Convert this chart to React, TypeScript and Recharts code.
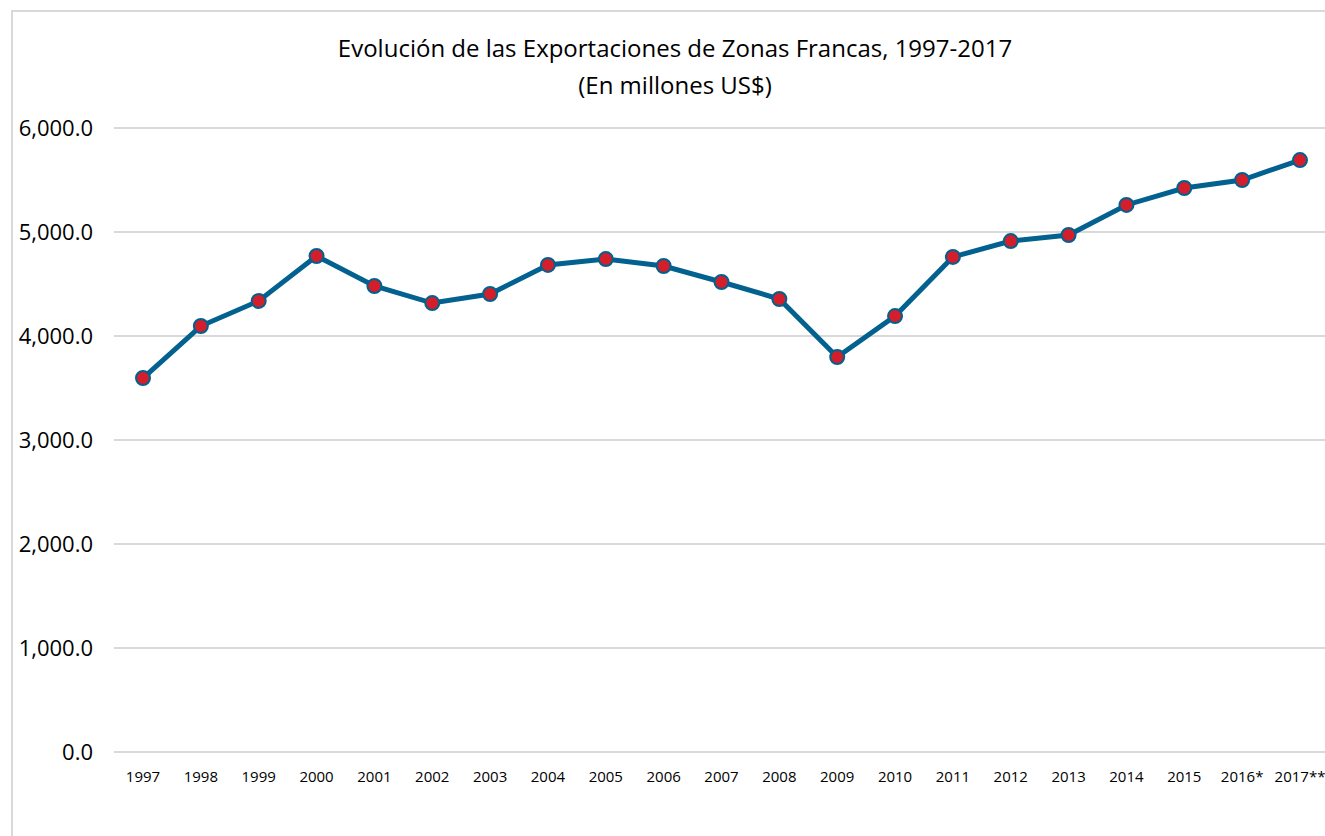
import React from 'react';
import { LineChart, Line, XAxis, YAxis, CartesianGrid } from 'recharts';

// Exportaciones de zonas francas, millones de US$
const years = ['1997', '1998', '1999', '2000', '2001', '2002', '2003', '2004', '2005', '2006', '2007',
  '2008', '2009', '2010', '2011', '2012', '2013', '2014', '2015', '2016*', '2017**'];
const exportsValues = [3596, 4096, 4337, 4769, 4481, 4317, 4404, 4683, 4740, 4673, 4519,
  4356, 3798, 4192, 4760, 4913, 4971, 5260, 5423, 5500, 5692];
const yTicks = [0, 1000, 2000, 3000, 4000, 5000, 6000];

const LINE_BLUE = '#02618F';
const DOT_RED = '#D21F2B';
const GRID = '#D9D9D9';
const FONT = '"Open Sans", sans-serif';

const fmt = (v: number) =>
  v.toLocaleString('en-US', { minimumFractionDigits: 1, maximumFractionDigits: 1 });

export default function App() {
  const data = years.map((year, i) => ({ year, value: exportsValues[i] }));

  return (
    <div style={{ position: 'absolute', left: 0, top: 0, width: 1325, height: 836, overflow: 'hidden', background: '#fff' }}>
      {/* chart area frame (cut off on the right and bottom) */}
      <div style={{ position: 'absolute', left: 11, top: 10, width: 1400, height: 900, borderTop: `2px solid ${GRID}`, borderLeft: `2px solid ${GRID}` }} />

      <div style={{ position: 'absolute', left: 0, top: 29, width: 1350, textAlign: 'center', fontFamily: FONT, fontSize: 24, lineHeight: '37px', color: '#000' }}>
        Evolución de las Exportaciones de Zonas Francas, 1997-2017
        <br />
        (En millones US$)
      </div>

      <LineChart
        width={1340}
        height={836}
        data={data}
        margin={{ top: 128, right: 11, bottom: 0, left: 0 }}
        style={{ position: 'absolute', left: 0, top: 0 }}
      >
        <CartesianGrid vertical={false} stroke={GRID} strokeWidth={2} />
        <XAxis
          dataKey="year"
          axisLine={false}
          tickLine={false}
          height={84}
          tickMargin={13}
          interval={0}
          padding={{ left: 29, right: 29 }}
          tick={{ fill: '#000', fontSize: 15, fontFamily: FONT }}
        />
        <YAxis
          domain={[0, 6000]}
          ticks={yTicks}
          width={114}
          axisLine={false}
          tickLine={false}
          tickMargin={15}
          tickFormatter={fmt}
          tick={{ fill: '#000', fontSize: 22, fontFamily: FONT }}
        />
        <Line
          type="linear"
          dataKey="value"
          stroke={LINE_BLUE}
          strokeWidth={5}
          dot={{ r: 7, fill: DOT_RED, stroke: LINE_BLUE, strokeWidth: 2 }}
          isAnimationActive={false}
        />
      </LineChart>
    </div>
  );
}
